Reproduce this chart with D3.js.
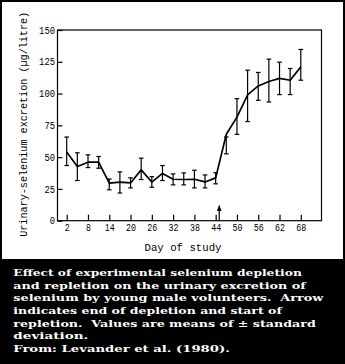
<!DOCTYPE html>
<html>
<head>
<meta charset="utf-8">
<script src="https://cdn.jsdelivr.net/npm/d3@7"></script>
<style>
  html, body { margin: 0; padding: 0; background: #fff; }
  svg { display: block; }
</style>
</head>
<body>
<svg id="chart" width="345" height="364"></svg>
<script>
// ---- data ----
const days  = [2, 5, 8, 11, 14, 17, 20, 23, 26, 29, 32, 35, 38, 41, 44, 47, 50, 53, 56, 59, 62, 65, 68];
const means = [54, 42.6, 46, 46, 29.5, 30.3, 29.7, 40, 30.4, 37.2, 32.6, 32.4, 32.6, 30.5, 33.7, 68, 81.5, 99, 106, 109.5, 112, 110.5, 121];
const lower = [43.4, 31.6, 41.8, 41.3, 24.3, 21.8, 25.8, 32.4, 26.3, 31.6, 28.2, 28.2, 25.8, 25.8, 29, 52.6, 67.9, 78, 94.7, 93.4, 99.2, 99.2, 110.5];
const upper = [65.8, 53.4, 51.8, 50.5, 32.8, 38.4, 33.7, 49.2, 34.7, 43.4, 36.8, 37.6, 39.7, 36, 37.8, 65.8, 96, 118.4, 116.6, 127.1, 124.7, 119.7, 134.7];
const xTicks = [2, 8, 14, 20, 26, 32, 38, 44, 50, 56, 62, 68];
const yTicks = [0, 25, 50, 75, 100, 125, 150];
const arrowDay = 45;
const xTitle = "Day of study";
const yTitle = "Urinary-selenium excretion (\u00b5g/litre)";
const captionLines = [
  "Effect of experimental selenium depletion",
  "and repletion on the urinary excretion of",
  "selenium by young male volunteers.  Arrow",
  "indicates end of depletion and start of",
  "repletion.  Values are means of \u00b1 standard",
  "deviation.",
  "From: Levander et al. (1980)."
];
const captionWidths = [288.5, 292.5, 310, 268.5, 302.5, 75, 216.5];

// ---- drawing ----
const svg = d3.select("#chart");
const W = 345, H = 364;

// outer frame and caption panel
svg.append("rect").attr("x", 0).attr("y", 0).attr("width", W).attr("height", H).attr("fill", "#000");
svg.append("rect").attr("x", 2).attr("y", 2).attr("width", W - 4).attr("height", 257).attr("fill", "#fff");

const box = {left: 57.5, right: 321.5, top: 30, bottom: 220.7};

const x = d3.scaleLinear().domain([2, 68]).range([66.7, 300.8]);
const y = d3.scaleLinear().domain([0, 150]).range([box.bottom, box.top]);

const monoFont = "'Liberation Mono', 'Courier New', monospace";

// plot box
svg.append("rect")
  .attr("x", box.left).attr("y", box.top)
  .attr("width", box.right - box.left).attr("height", box.bottom - box.top)
  .attr("fill", "none").attr("stroke", "#000").attr("stroke-width", 1.2);

// y axis
const yAxis = svg.append("g")
  .attr("transform", `translate(${box.left},0)`)
  .call(d3.axisLeft(y).tickValues(yTicks).tickSizeInner(-5).tickSizeOuter(0).tickPadding(2.5).tickFormat(d3.format("d")));
yAxis.select(".domain").remove();
yAxis.selectAll("line").attr("stroke", "#000").attr("stroke-width", 1.2);
yAxis.selectAll("text")
  .attr("font-family", monoFont).attr("font-size", 10).attr("fill", "#000")
  .each(function(d) {
    const n = String(d).length;
    d3.select(this).attr("textLength", n * 5.3).attr("lengthAdjust", "spacingAndGlyphs");
  });

// x axis
const xAxis = svg.append("g")
  .attr("transform", `translate(0,${box.bottom})`)
  .call(d3.axisBottom(x).tickValues(xTicks).tickSizeInner(-6).tickSizeOuter(0).tickPadding(3.5).tickFormat(d3.format("d")));
xAxis.select(".domain").remove();
xAxis.selectAll("line").attr("stroke", "#000").attr("stroke-width", 1.2);
xAxis.selectAll("text")
  .attr("font-family", monoFont).attr("font-size", 10).attr("fill", "#000")
  .each(function(d) {
    const n = String(d).length;
    d3.select(this).attr("textLength", n * 5.0).attr("lengthAdjust", "spacingAndGlyphs");
  });

// axis titles
svg.append("text")
  .attr("x", 183).attr("y", 251)
  .attr("text-anchor", "middle")
  .attr("font-family", monoFont).attr("font-size", 10.8)
  .attr("textLength", 77).attr("lengthAdjust", "spacingAndGlyphs")
  .text(xTitle);

svg.append("text")
  .attr("transform", "translate(26.5,124.3) rotate(-90)")
  .attr("text-anchor", "middle")
  .attr("font-family", monoFont).attr("font-size", 10.1)
  .attr("textLength", 225).attr("lengthAdjust", "spacingAndGlyphs")
  .text(yTitle);

// error bars
const capW = 2.3;
const eb = svg.append("g").attr("stroke", "#000").attr("stroke-width", 1.2);
days.forEach((d, i) => {
  const cx = x(d);
  eb.append("line").attr("x1", cx).attr("x2", cx).attr("y1", y(upper[i])).attr("y2", y(lower[i]));
  eb.append("line").attr("x1", cx - capW).attr("x2", cx + capW).attr("y1", y(upper[i])).attr("y2", y(upper[i]));
  eb.append("line").attr("x1", cx - capW).attr("x2", cx + capW).attr("y1", y(lower[i])).attr("y2", y(lower[i]));
});

// mean line
const line = d3.line().x((d, i) => x(days[i])).y(d => y(d));
svg.append("path")
  .datum(means)
  .attr("d", line)
  .attr("fill", "none").attr("stroke", "#000").attr("stroke-width", 1.7)
  .attr("stroke-linejoin", "round");

// arrow marking end of depletion
const ax = x(arrowDay);
svg.append("line")
  .attr("x1", ax).attr("x2", ax).attr("y1", box.bottom).attr("y2", 208)
  .attr("stroke", "#000").attr("stroke-width", 1.2);
svg.append("path")
  .attr("d", `M${ax},204.5 L${ax - 2.3},211 L${ax + 2.3},211 Z`)
  .attr("fill", "#000");

// caption
const cap = svg.append("g")
  .attr("font-family", "'DejaVu Serif', 'Liberation Serif', serif")
  .attr("font-weight", "bold").attr("font-size", 9).attr("fill", "#fff");
captionLines.forEach((t, i) => {
  cap.append("text")
    .attr("x", 13.3).attr("y", 276 + i * 12.67)
    .attr("textLength", captionWidths[i]).attr("lengthAdjust", "spacingAndGlyphs")
    .attr("xml:space", "preserve")
    .style("white-space", "pre")
    .text(t);
});
</script>
</body>
</html>
